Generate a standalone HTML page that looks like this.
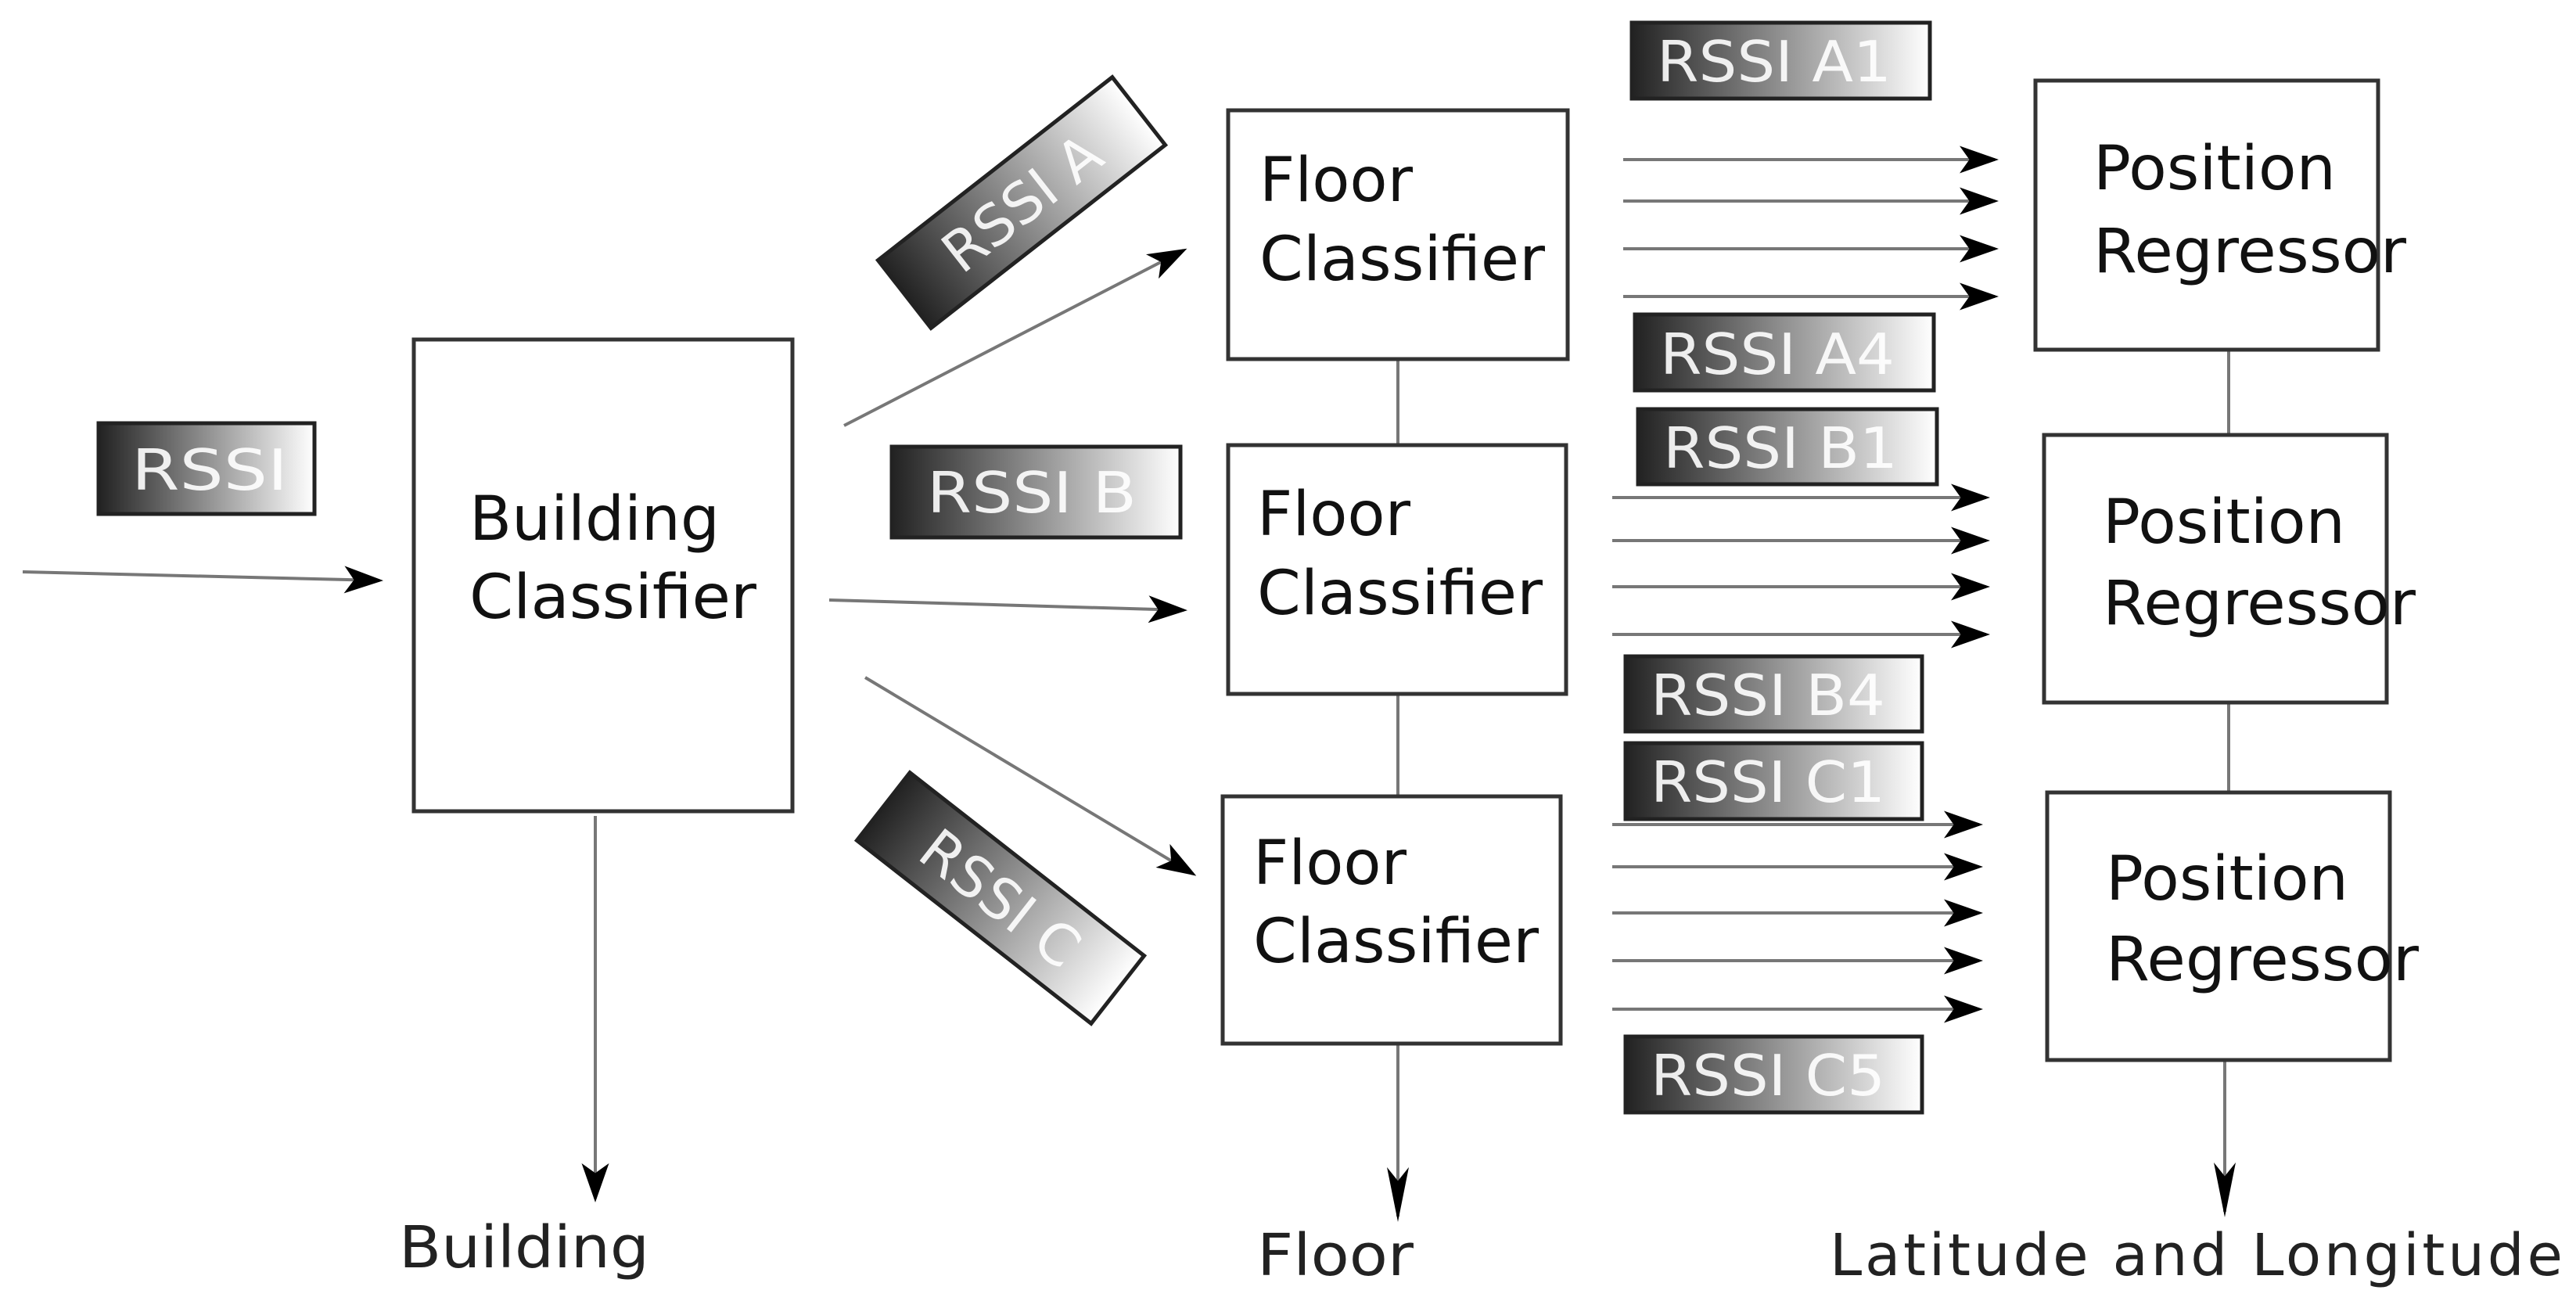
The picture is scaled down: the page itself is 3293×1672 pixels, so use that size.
<!DOCTYPE html>
<html><head><meta charset="utf-8"><style>
html,body{margin:0;padding:0;background:#fff}
svg{display:block}
text{font-family:"DejaVu Sans","Liberation Sans",sans-serif}
</style></head><body>
<svg width="3293" height="1672" viewBox="0 0 3293 1672" xmlns="http://www.w3.org/2000/svg">
<defs>
<linearGradient id="g" x1="0" y1="0" x2="1" y2="0">
<stop offset="0" stop-color="#222"/><stop offset="1" stop-color="#fff"/></linearGradient>
<marker id="ah" viewBox="0 0 20 14" refX="18" refY="7" markerWidth="50" markerHeight="35" orient="auto" markerUnits="userSpaceOnUse">
<path d="M0,0 L20,7 L0,14 L5,7 Z" fill="#000"/></marker>
<marker id="av" viewBox="0 0 20 14" refX="18" refY="7" markerWidth="70" markerHeight="28" orient="auto" markerUnits="userSpaceOnUse" preserveAspectRatio="none">
<path d="M0,0 L20,7 L0,14 L5,7 Z" fill="#000"/></marker>
</defs>
<g fill="none" stroke="#777" stroke-width="4">
<line x1="29" y1="731" x2="485" y2="742" marker-end="url(#ah)"/>
<line x1="1079" y1="544" x2="1513" y2="320" marker-end="url(#ah)"/>
<line x1="1060" y1="767" x2="1513" y2="780" marker-end="url(#ah)"/>
<line x1="1106" y1="866" x2="1525" y2="1117" marker-end="url(#ah)"/>
<line x1="761" y1="1043" x2="761" y2="1532" marker-end="url(#ah)"/>
<line x1="2075" y1="204" x2="2550" y2="204" marker-end="url(#ah)"/>
<line x1="2075" y1="257" x2="2550" y2="257" marker-end="url(#ah)"/>
<line x1="2075" y1="318" x2="2550" y2="318" marker-end="url(#ah)"/>
<line x1="2075" y1="379" x2="2550" y2="379" marker-end="url(#ah)"/>
<line x1="2061" y1="636" x2="2539" y2="636" marker-end="url(#ah)"/>
<line x1="2061" y1="691" x2="2539" y2="691" marker-end="url(#ah)"/>
<line x1="2061" y1="750" x2="2539" y2="750" marker-end="url(#ah)"/>
<line x1="2061" y1="811" x2="2539" y2="811" marker-end="url(#ah)"/>
<line x1="2061" y1="1054" x2="2530" y2="1054" marker-end="url(#ah)"/>
<line x1="2061" y1="1108" x2="2530" y2="1108" marker-end="url(#ah)"/>
<line x1="2061" y1="1167" x2="2530" y2="1167" marker-end="url(#ah)"/>
<line x1="2061" y1="1228" x2="2530" y2="1228" marker-end="url(#ah)"/>
<line x1="2061" y1="1290" x2="2530" y2="1290" marker-end="url(#ah)"/>
<line x1="1787" y1="459" x2="1787" y2="569"/>
<line x1="1787" y1="887" x2="1787" y2="1018"/>
<line x1="2849" y1="447" x2="2849" y2="556"/>
<line x1="2849" y1="898" x2="2849" y2="1013"/>
<line x1="1787" y1="1334" x2="1787" y2="1555" marker-end="url(#av)"/>
<line x1="2844" y1="1355" x2="2844" y2="1549" marker-end="url(#av)"/>
</g>
<g fill="#fff" stroke="#333" stroke-width="5">
<rect x="529" y="434" width="484" height="603"/>
<rect x="1570" y="141" width="434" height="318"/>
<rect x="1570" y="569" width="432" height="318"/>
<rect x="1563" y="1018" width="432" height="316"/>
<rect x="2602" y="103" width="438" height="344"/>
<rect x="2613" y="556" width="438" height="342"/>
<rect x="2617" y="1013" width="438" height="342"/>
</g>
<g font-size="78" fill="#111" lengthAdjust="spacingAndGlyphs">
<text x="600" y="690" textLength="320" lengthAdjust="spacingAndGlyphs">Building</text><text x="600" y="790" textLength="367" lengthAdjust="spacingAndGlyphs">Classifier</text>
<text x="1610" y="257" textLength="196" lengthAdjust="spacingAndGlyphs">Floor</text><text x="1610" y="358" textLength="365" lengthAdjust="spacingAndGlyphs">Classifier</text>
<text x="1607" y="684" textLength="196" lengthAdjust="spacingAndGlyphs">Floor</text><text x="1607" y="785" textLength="365" lengthAdjust="spacingAndGlyphs">Classifier</text>
<text x="1602" y="1130" textLength="196" lengthAdjust="spacingAndGlyphs">Floor</text><text x="1602" y="1230" textLength="365" lengthAdjust="spacingAndGlyphs">Classifier</text>
<text x="2676" y="242" textLength="310" lengthAdjust="spacingAndGlyphs">Position</text><text x="2676" y="348" textLength="400" lengthAdjust="spacingAndGlyphs">Regressor</text>
<text x="2688" y="694" textLength="310" lengthAdjust="spacingAndGlyphs">Position</text><text x="2688" y="798" textLength="400" lengthAdjust="spacingAndGlyphs">Regressor</text>
<text x="2692" y="1150" textLength="310" lengthAdjust="spacingAndGlyphs">Position</text><text x="2692" y="1253" textLength="400" lengthAdjust="spacingAndGlyphs">Regressor</text>
</g>
<g font-size="74" fill="#222">
<text x="510" y="1620" textLength="320" lengthAdjust="spacingAndGlyphs">Building</text>
<text x="1607" y="1630" textLength="200" lengthAdjust="spacingAndGlyphs">Floor</text>
<text x="2339" y="1630" textLength="937">Latitude and Longitude</text>
</g>
<g stroke="#222" stroke-width="5" fill="url(#g)">
<rect x="126" y="541" width="276" height="116"/>
<rect x="1140" y="571" width="369" height="116"/>
<rect x="2086" y="29" width="381" height="97"/>
<rect x="2090" y="402" width="382" height="97"/>
<rect x="2094" y="523" width="382" height="96"/>
<rect x="2078" y="839" width="379" height="96"/>
<rect x="2078" y="950" width="379" height="97"/>
<rect x="2078" y="1325" width="379" height="97"/>
<g transform="translate(1306,259) rotate(-38)"><rect x="-190" y="-55" width="380" height="110"/></g>
<g transform="translate(1279,1148) rotate(38)"><rect x="-190" y="-55" width="380" height="110"/></g>
</g>
<g font-size="72" fill="#fff" fill-opacity="0.9">
<text x="168" y="626" textLength="200" lengthAdjust="spacingAndGlyphs">RSSI</text>
<text x="1185" y="655" textLength="268" lengthAdjust="spacingAndGlyphs">RSSI B</text>
<text x="2118" y="104" textLength="300" lengthAdjust="spacingAndGlyphs">RSSI A1</text>
<text x="2122" y="478" textLength="300" lengthAdjust="spacingAndGlyphs">RSSI A4</text>
<text x="2126" y="598" textLength="300" lengthAdjust="spacingAndGlyphs">RSSI B1</text>
<text x="2110" y="914" textLength="300" lengthAdjust="spacingAndGlyphs">RSSI B4</text>
<text x="2110" y="1025" textLength="300" lengthAdjust="spacingAndGlyphs">RSSI C1</text>
<text x="2110" y="1400" textLength="300" lengthAdjust="spacingAndGlyphs">RSSI C5</text>
<text transform="translate(1306,259) rotate(-38)" x="0" y="26" text-anchor="middle">RSSI A</text>
<text transform="translate(1279,1148) rotate(38)" x="0" y="26" text-anchor="middle">RSSI C</text>
</g>
</svg>
</body></html>
